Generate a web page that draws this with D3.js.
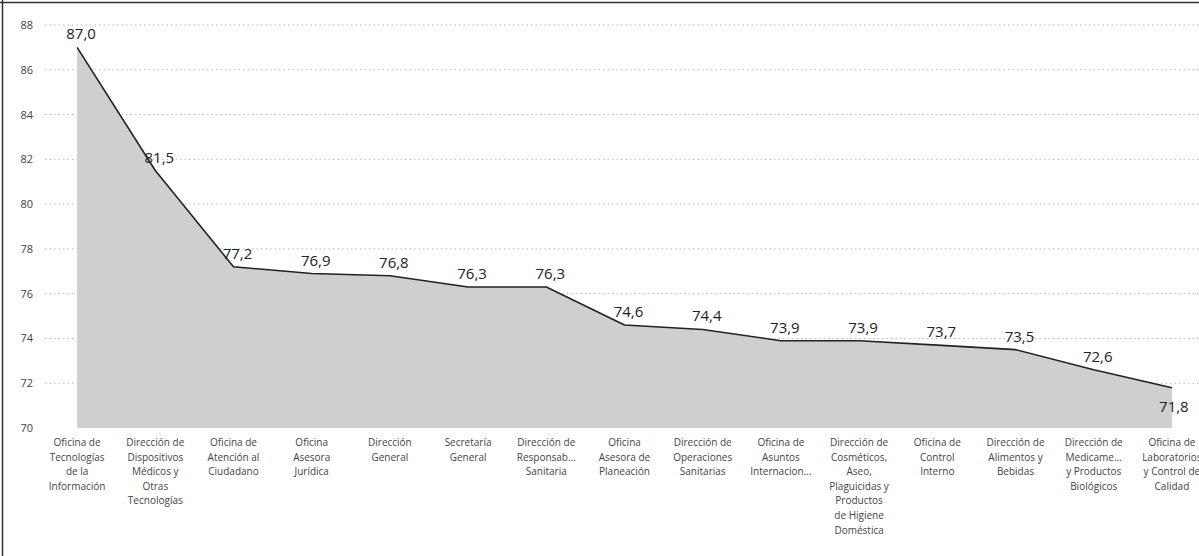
<!DOCTYPE html>
<html>
<head>
<meta charset="utf-8">
<script src="https://cdn.jsdelivr.net/npm/d3@7/dist/d3.min.js"></script>
<style>
  html, body { margin: 0; padding: 0; background: #fff; }
  svg { display: block; }
</style>
</head>
<body>
<svg id="chart" width="1199" height="556"></svg>
<script>
// Satisfaction score per office, sorted descending
const categories = [
  "Oficina de Tecnologías de la Información",
  "Dirección de Dispositivos Médicos y Otras Tecnologías",
  "Oficina de Atención al Ciudadano",
  "Oficina Asesora Jurídica",
  "Dirección General",
  "Secretaría General",
  "Dirección de Responsabilidad Sanitaria",
  "Oficina Asesora de Planeación",
  "Dirección de Operaciones Sanitarias",
  "Oficina de Asuntos Internacionales",
  "Dirección de Cosméticos, Aseo, Plaguicidas y Productos de Higiene Doméstica",
  "Oficina de Control Interno",
  "Dirección de Alimentos y Bebidas",
  "Dirección de Medicamentos y Productos Biológicos",
  "Oficina de Laboratorios y Control de Calidad"
];
const values = [87.0, 81.5, 77.2, 76.9, 76.8, 76.3, 76.3, 74.6, 74.4, 73.9, 73.9, 73.7, 73.5, 72.6, 71.8];

// Wrapped axis labels as shown under each point
const tickLabelLines = [
  ["Oficina de", "Tecnologías", "de la", "Información"],
  ["Dirección de", "Dispositivos", "Médicos y", "Otras", "Tecnologías"],
  ["Oficina de", "Atención al", "Ciudadano"],
  ["Oficina", "Asesora", "Jurídica"],
  ["Dirección", "General"],
  ["Secretaría", "General"],
  ["Dirección de", "Responsab...", "Sanitaria"],
  ["Oficina", "Asesora de", "Planeación"],
  ["Dirección de", "Operaciones", "Sanitarias"],
  ["Oficina de", "Asuntos", "Internacion..."],
  ["Dirección de", "Cosméticos,", "Aseo,", "Plaguicidas y", "Productos", "de Higiene", "Doméstica"],
  ["Oficina de", "Control", "Interno"],
  ["Dirección de", "Alimentos y", "Bebidas"],
  ["Dirección de", "Medicame...", "y Productos", "Biológicos"],
  ["Oficina de", "Laboratorios", "y Control de", "Calidad"]
];
const yTicks = [70, 72, 74, 76, 78, 80, 82, 84, 86, 88];

const svg = d3.select("#chart");
const W = 1199, H = 556;
const fontFamily = "'Open Sans', 'DejaVu Sans', sans-serif";

const x = d3.scaleBand().domain(categories).range([38, 1211]).padding(0);
const cx = d => x(d) + x.bandwidth() / 2;
const y = d3.scaleLinear().domain([70, 88]).range([428, 25]);

// Frame
svg.append("line").attr("x1", 0).attr("x2", W).attr("y1", 2.5).attr("y2", 2.5)
  .attr("stroke", "#333").attr("stroke-width", 1.5);
svg.append("line").attr("x1", 2.5).attr("x2", 2.5).attr("y1", 0).attr("y2", H)
  .attr("stroke", "#333").attr("stroke-width", 1.5);

// Horizontal gridlines
svg.append("g").selectAll("line").data(yTicks.filter(t => t > 70)).join("line")
  .attr("x1", 45).attr("x2", W)
  .attr("y1", d => y(d)).attr("y2", d => y(d))
  .attr("stroke", "#b5b5b5").attr("stroke-width", 1)
  .attr("stroke-dasharray", "1.5,3");

// Y axis labels
const yAxis = d3.axisLeft(y).tickValues(yTicks).tickSize(0).tickPadding(0);
const gy = svg.append("g").attr("transform", "translate(33,0)").call(yAxis);
gy.select(".domain").remove();
gy.selectAll("text").attr("font-family", fontFamily).attr("font-size", 11).attr("fill", "#444");

const data = categories.map((c, i) => ({ c, v: values[i] }));

// Area and line
const area = d3.area().x(d => cx(d.c)).y0(y(70)).y1(d => y(d.v)).curve(d3.curveLinear);
const line = d3.line().x(d => cx(d.c)).y(d => y(d.v)).curve(d3.curveLinear);

svg.append("path").datum(data).attr("d", area).attr("fill", "#cfcfcf");
svg.append("path").datum(data).attr("d", line)
  .attr("fill", "none").attr("stroke", "#222").attr("stroke-width", 1.6)
  .attr("stroke-linejoin", "round");

// Value labels
const fmt = v => v.toFixed(1).replace(".", ",");
svg.append("g").selectAll("text").data(data).join("text")
  .attr("x", (d, i) => i === data.length - 1 ? cx(d.c) + 2 : cx(d.c) + 4)
  .attr("y", (d, i) => i === data.length - 1 ? y(d.v) + 24 : y(d.v) - 8)
  .attr("text-anchor", "middle")
  .attr("font-family", fontFamily).attr("font-size", 15).attr("fill", "#222")
  .text(d => fmt(d.v));

// X axis labels (wrapped)
const gx = svg.append("g");
tickLabelLines.forEach((lines, i) => {
  const t = gx.append("text")
    .attr("x", cx(categories[i])).attr("y", 446)
    .attr("text-anchor", "middle")
    .attr("font-family", fontFamily).attr("font-size", 10).attr("fill", "#444");
  lines.forEach((ln, j) => {
    t.append("tspan").attr("x", cx(categories[i])).attr("dy", j === 0 ? 0 : 14.6).text(ln);
  });
});
</script>
</body>
</html>
